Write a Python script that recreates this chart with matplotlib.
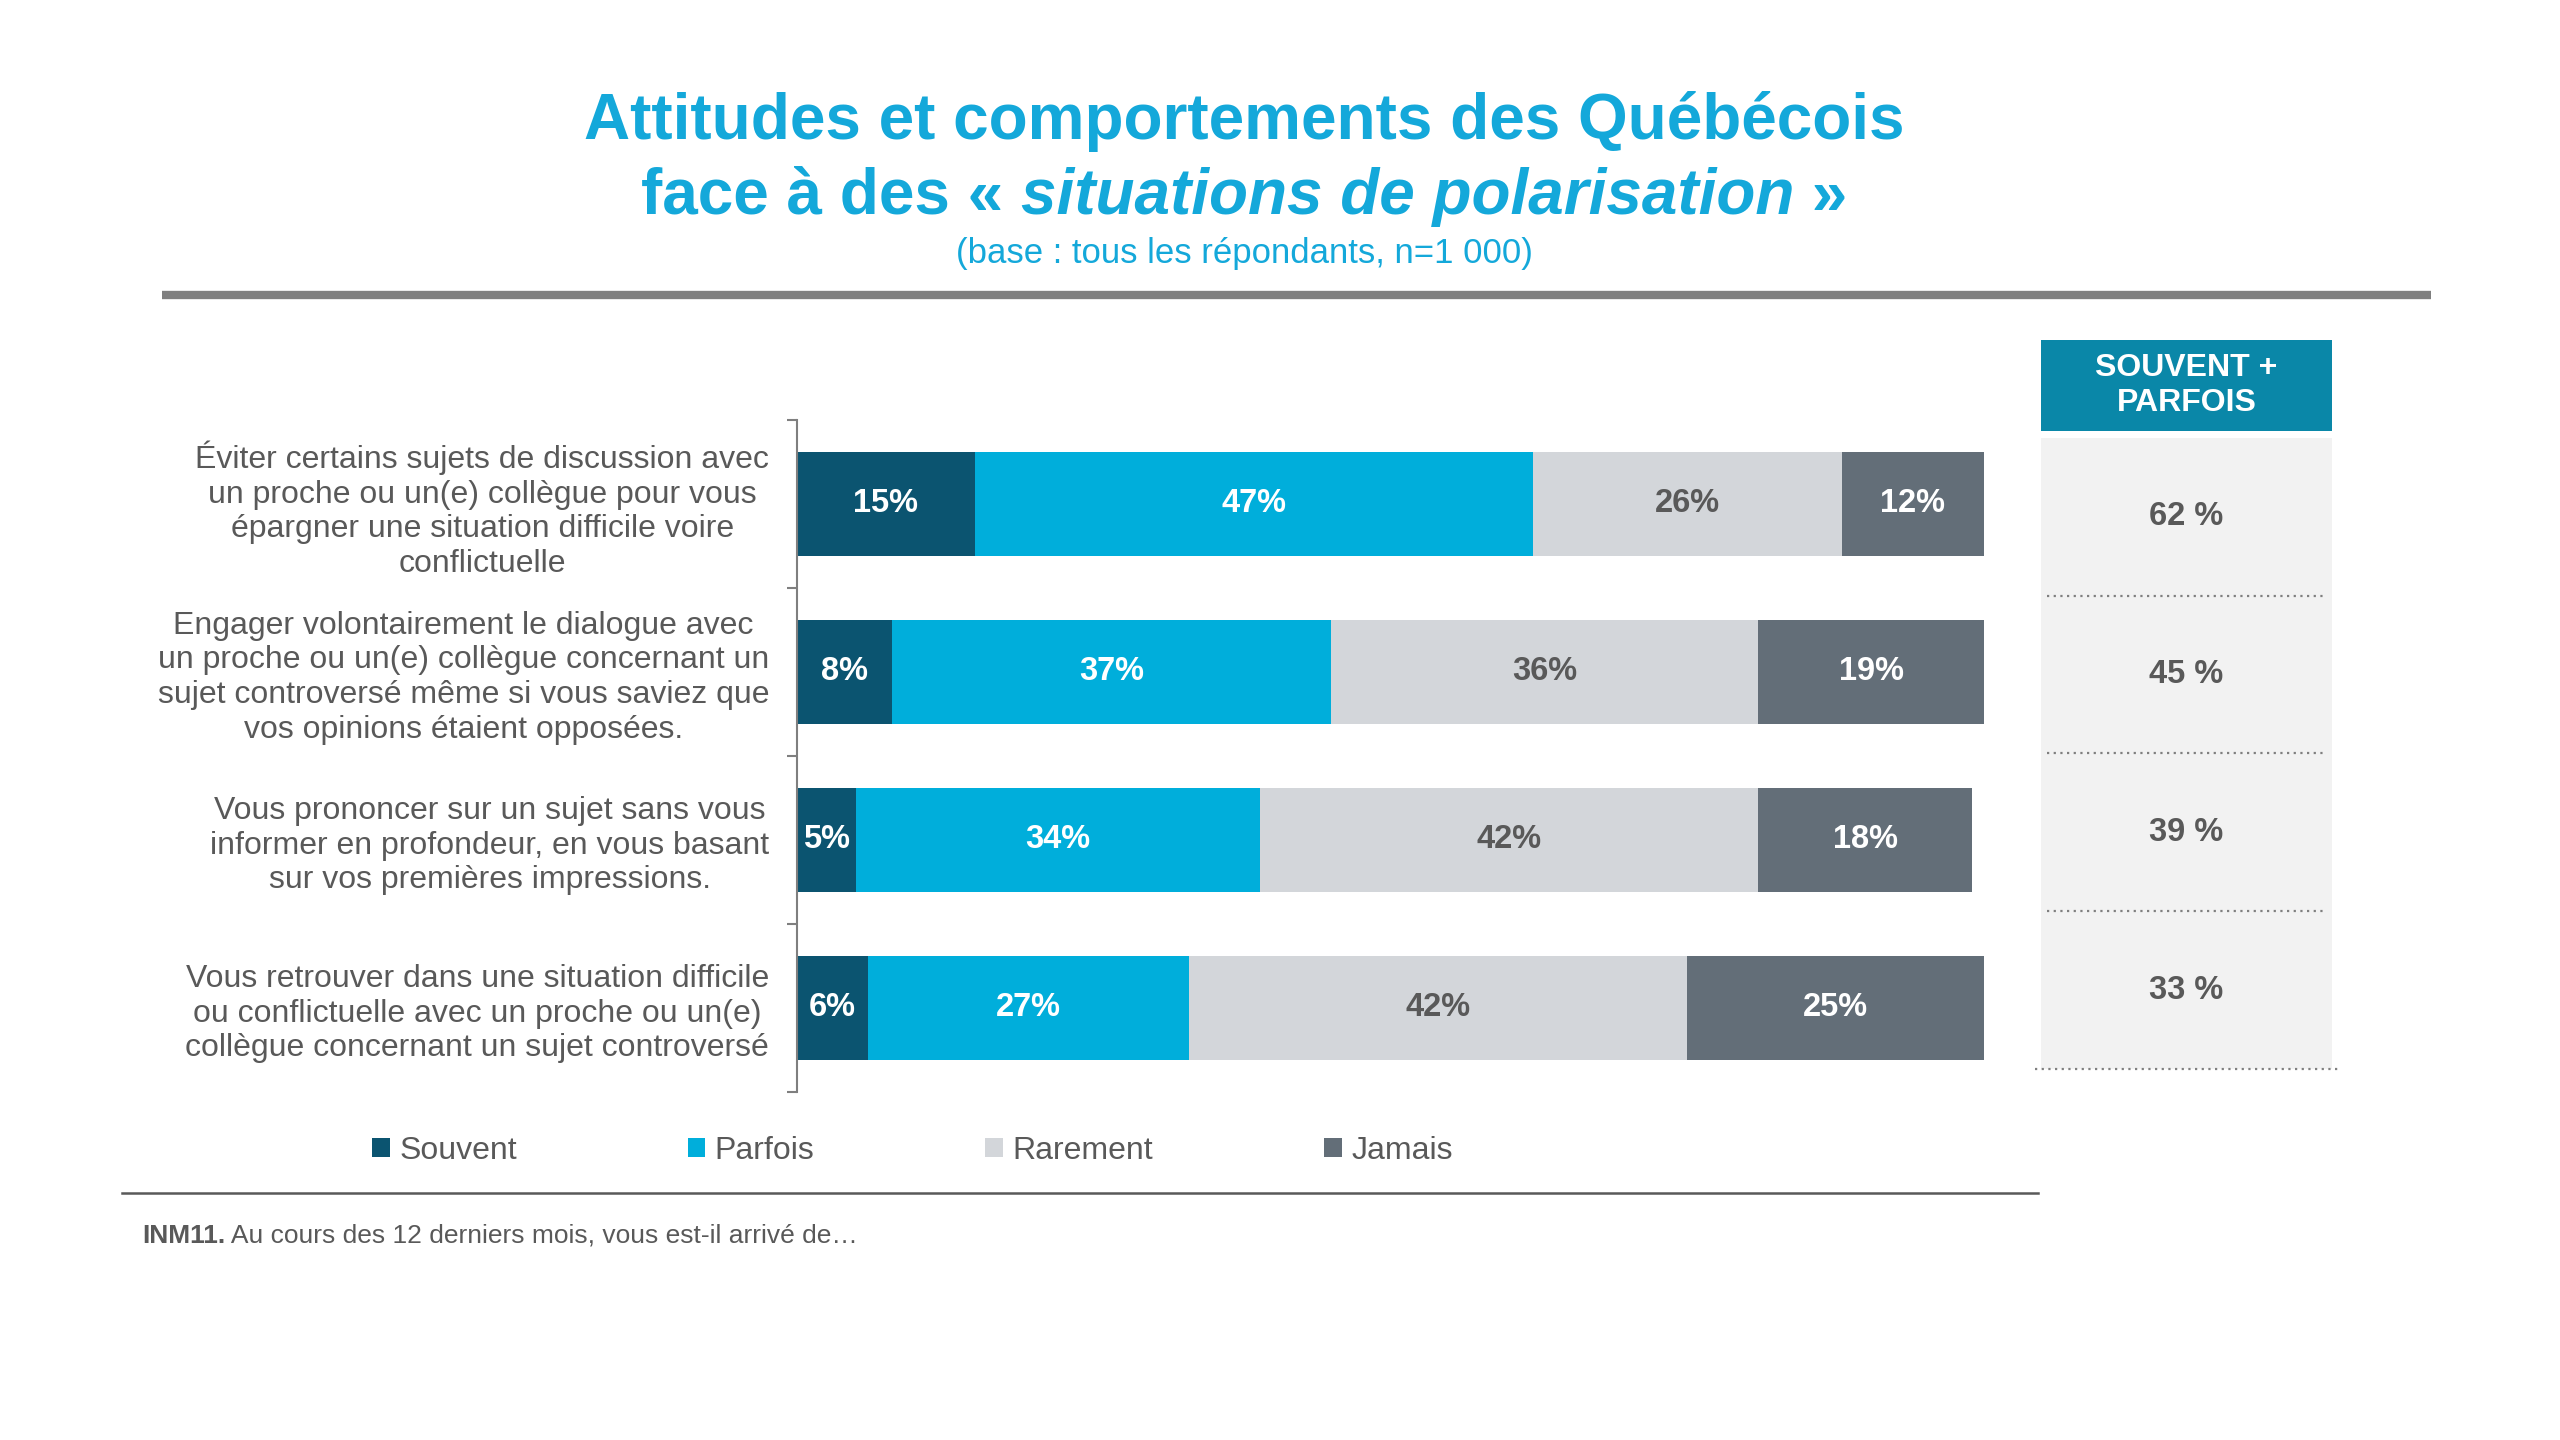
# Attitudes et comportements des Québécois - stacked bars + Souvent+Parfois panel.

import numpy as np
import matplotlib
matplotlib.use('Agg')
import matplotlib.pyplot as plt
from matplotlib.patches import Patch, Rectangle
from matplotlib.lines import Line2D

plt.rcParams['font.family'] = ['Liberation Sans', 'DejaVu Sans']

questions = [
    "Éviter certains sujets de discussion avec\nun proche ou un(e) collègue pour vous\népargner une situation difficile voire\nconflictuelle",
    "Engager volontairement le dialogue avec\nun proche ou un(e) collègue concernant un\nsujet controversé même si vous saviez que\nvos opinions étaient opposées.",
    "Vous prononcer sur un sujet sans vous\ninformer en profondeur, en vous basant\nsur vos premières impressions.",
    "Vous retrouver dans une situation difficile\nou conflictuelle avec un proche ou un(e)\ncollègue concernant un sujet controversé",
]
categories = ['Souvent', 'Parfois', 'Rarement', 'Jamais']
souvent = [15, 8, 5, 6]
parfois = [47, 37, 34, 27]
rarement = [26, 36, 42, 42]
jamais = [12, 19, 18, 25]

colors = ['#0B5470', '#00AEDB', '#D3D6DA', '#636E78']
label_colors = ['white', 'white', '#595959', 'white']
TEXT_GRAY = '#595959'
TITLE_BLUE = '#14A8DA'

fig = plt.figure(figsize=(25.6, 14.4), dpi=100)
fig.patch.set_facecolor('white')

# --- main stacked bars ---
ax = fig.add_axes([0.3113, 0.2417, 0.4637, 0.4667])
series = [souvent, parfois, rarement, jamais]
y = np.arange(len(questions))
left = np.zeros(len(questions))
handles = []
for vals, col, lc, name in zip(series, colors, label_colors, categories):
    bars = ax.barh(y, vals, left=left, height=0.62, color=col)
    ax.bar_label(bars, labels=[f'{v}%' for v in vals], label_type='center',
                 color=lc, fontsize=23.5, fontweight='bold')
    left += np.array(vals)
    handles.append(Patch(facecolor=col, edgecolor='none', label=name))

ax.set_xlim(0, 100)
ax.set_ylim(len(questions) - 0.5, -0.5)
for s in ['top', 'right', 'bottom']:
    ax.spines[s].set_visible(False)
ax.spines['left'].set_color('#7F7F7F')
ax.spines['left'].set_linewidth(1.5)
ax.set_xticks([])
ax.set_yticks(np.arange(len(questions) + 1) - 0.5)
ax.set_yticklabels([])
ax.tick_params(axis='y', which='major', length=7, width=1.5, color='#7F7F7F')
ax.set_yticks(y, minor=True)
ax.set_yticklabels(questions, minor=True, fontsize=23, color=TEXT_GRAY)
ax.tick_params(axis='y', which='minor', length=0, pad=20)
for lbl in ax.get_yticklabels(minor=True):
    lbl.set_multialignment('center')
    lbl.set_linespacing(1.2)

# --- Souvent + Parfois panel ---
totals = [s + p for s, p in zip(souvent, parfois)]
pax = fig.add_axes([2041 / 2560, 1 - 1069 / 1440, 291 / 2560, 729 / 1440])
pax.set_xlim(0, 1)
pax.set_ylim(len(totals), -0.62)
pax.axis('off')
pax.add_patch(Rectangle((0, -0.62), 1, 0.575, facecolor='#0A87A8', edgecolor='none'))
pax.text(0.5, -0.33, 'SOUVENT +\nPARFOIS', ha='center', va='center', color='white',
         fontsize=23, fontweight='bold', linespacing=1.22)
pax.add_patch(Rectangle((0, 0), 1, len(totals), facecolor='#F2F2F2', edgecolor='none'))
for i, t in enumerate(totals):
    pax.text(0.5, i + 0.5, f'{t} %', ha='center', va='center', color=TEXT_GRAY,
             fontsize=23.5, fontweight='bold')
    x0, x1 = (-0.02, 1.02) if i == len(totals) - 1 else (0.02, 0.98)
    pax.plot([x0, x1], [i + 1, i + 1], color='#7F7F7F', lw=1.6, ls=(0, (1, 2)),
             clip_on=False)

# --- titles ---
fig.text(0.486, 1 - 121 / 1440, 'Attitudes et comportements des Québécois',
         ha='center', va='center', fontsize=46, fontweight='bold', color=TITLE_BLUE)
renderer = fig.canvas.get_renderer()
parts = [('face à des « ', 'normal'), ('situations de polarisation', 'italic'), (' »', 'normal')]
objs = [fig.text(0, 1 - 197 / 1440, p, ha='left', va='center', fontsize=46,
                 fontweight='bold', style=st, color=TITLE_BLUE) for p, st in parts]
widths = [o.get_window_extent(renderer).width / fig.bbox.width for o in objs]
x = 0.486 - sum(widths) / 2
for o, w in zip(objs, widths):
    o.set_x(x)
    x += w
fig.text(0.486, 1 - 254 / 1440, '(base : tous les répondants, n=1 000)',
         ha='center', va='center', fontsize=25, color=TITLE_BLUE)
fig.add_artist(Line2D([162 / 2560, 2431 / 2560], [1 - 295 / 1440] * 2,
                      color='#7F7F7F', lw=6, solid_capstyle='butt'))

# --- legend ---
fig.legend(handles=handles, loc='center left', bbox_to_anchor=(372 / 2560, 1 - 1151 / 1440),
           ncol=4, frameon=False, fontsize=23, handlelength=0.55, handleheight=0.55,
           handletextpad=0.3, columnspacing=5.35, borderpad=0, borderaxespad=0,
           labelcolor=TEXT_GRAY)
fig.add_artist(Line2D([122 / 2560, 2038 / 2560], [1 - 1193 / 1440] * 2,
                      color='#595959', lw=1.8))

# --- footnote ---
t1 = fig.text(142 / 2560, 1 - 1236 / 1440, 'INM11.', ha='left', va='center',
              fontsize=19, fontweight='bold', color=TEXT_GRAY)
w1 = t1.get_window_extent(renderer).width / fig.bbox.width
fig.text(142 / 2560 + w1, 1 - 1236 / 1440, ' Au cours des 12 derniers mois, vous est-il arrivé de…',
         ha='left', va='center', fontsize=19, color=TEXT_GRAY)

fig.savefig('out.png', dpi=100, facecolor='white')
